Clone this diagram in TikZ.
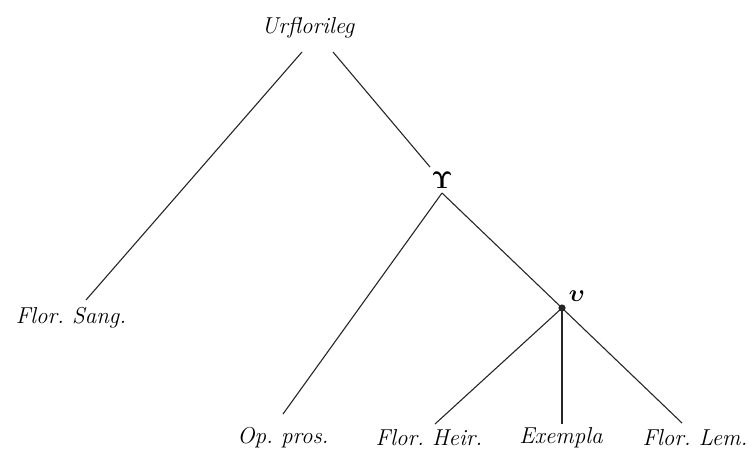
\RequirePackage{fix-cm}
\documentclass[tikz,border=0pt]{standalone}
\usepackage{amsmath}
\usepackage{bm}
\usepackage[no-math]{fontspec}
\frenchspacing
\begin{document}
\begin{tikzpicture}[x=1pt,y=-1pt,
  lbl/.style={font=\fontsize{23}{27}\selectfont\itshape, inner sep=0pt},
  sig/.style={font=\fontsize{24}{28}\selectfont, inner sep=0pt},
  edge/.style={line width=1.1pt, black!85}]
\useasboundingbox (0,0) rectangle (749,453);
% labels
\node[lbl] (ur) at (308,28) {Urflorileg};
\node[sig] (U) at (442,180) {$\mathbf{\Upsilon}$};
\node[sig] (u) at (577,296) {$\bm{\upsilon}$};
\node[lbl] (sang) at (71,318) {Flor. Sang.};
\node[lbl] (op) at (283,438) {Op. pros.};
\node[lbl] (heir) at (429,438) {Flor. Heir.};
\node[lbl] (ex) at (561,438) {Exempla};
\node[lbl] (lem) at (695,438) {Flor. Lem.};
% line ends
\coordinate (urL) at (302,52);
\coordinate (urR) at (333,52);
\coordinate (Utop) at (430,167);
\coordinate (Ubot) at (442,193);
\coordinate (dot) at (562,308);
\coordinate (sangT) at (86,300);
\coordinate (opT) at (283,414);
\coordinate (heirT) at (435,424);
\coordinate (exT) at (562,424);
\coordinate (lemT) at (682,423);
% edges
\draw[edge] (urL) -- (sangT);
\draw[edge] (urR) -- (Utop);
\draw[edge] (Ubot) -- (opT);
\draw[edge] (Ubot) -- (dot);
\draw[edge] (dot) -- (heirT);
\draw[edge] (dot) -- (exT);
\draw[edge] (dot) -- (lemT);
\fill[black!85] (dot) circle (3.6pt);
\end{tikzpicture}
\end{document}
